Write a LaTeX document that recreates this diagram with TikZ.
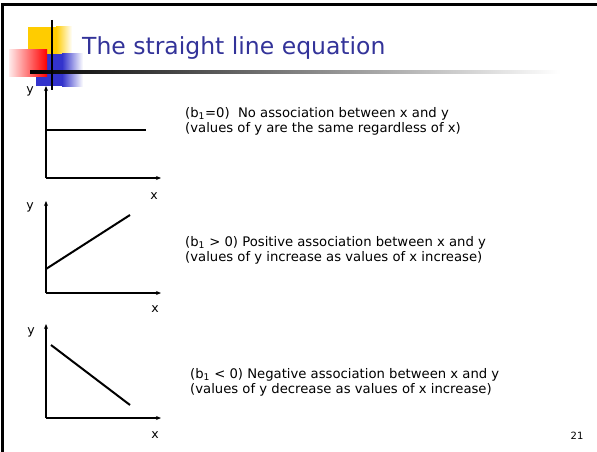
\documentclass[tikz,border=0pt]{standalone}
\usepackage{fontspec}
\setmainfont{DejaVu Sans}
\usetikzlibrary{arrows.meta,positioning}
\definecolor{titleblue}{RGB}{51,51,153}
\definecolor{logoyellow}{RGB}{255,204,0}
\definecolor{logoblue}{RGB}{51,51,204}
\begin{document}
\begin{tikzpicture}[x=1pt, y=-1pt,
    axis/.style={line width=1.8pt, -{Stealth[length=5pt,width=4pt]}},
    graph/.style={line width=2pt},
    axlabel/.style={font=\fontsize{12.5}{14}\selectfont, inner sep=0pt},
    note/.style={font=\fontsize{13.2}{15}\selectfont, align=left, anchor=west, inner sep=0pt}]
    \useasboundingbox (0,0) rectangle (597,452);
    % Marco de la diapositiva
    \draw[line width=3pt] (2.5,452) -- (2.5,5) -- (597,5);

    % Logotipo
    \fill[logoyellow] (28,27) rectangle (56,54);
    \shade[left color=logoyellow, right color=white] (56,27) rectangle (72,54);
    \fill[logoblue] (36,54) rectangle (62,86);
    \shade[left color=logoblue, right color=white] (62,54) rectangle (83,86);
    \shade[left color=red!8, right color=red] (9,50) rectangle (47,77);
    \shade[left color=black, right color=white] (30,71) rectangle (560,74);
    \draw[line width=2.5pt] (52,20) -- (52,90);

    % Titulo
    \node[anchor=base west, inner sep=0pt, text=titleblue, font=\fontsize{23.5}{28}\selectfont]
        (title) at (82,55) {The straight line equation};

    % Grafico 1: pendiente nula
    \coordinate (O1) at (46,178);
    \coordinate (Y1) at (46,86);
    \coordinate (X1) at (161,178);
    \draw[axis] (O1) -- (Y1);
    \draw[axis] (O1) -- (X1);
    \coordinate (A1) at (46,130);
    \coordinate (B1) at (146,130);
    \draw[graph] (A1) -- (B1);
    \node[axlabel] (ylab1) at (30,91) {y};
    \node[axlabel] (xlab1) at (154,196) {x};

    % Grafico 2: pendiente positiva
    \coordinate (O2) at (46,293);
    \coordinate (Y2) at (46,201);
    \coordinate (X2) at (161,293);
    \draw[axis] (O2) -- (Y2);
    \draw[axis] (O2) -- (X2);
    \coordinate (A2) at (46,269);
    \coordinate (B2) at (130,215);
    \draw[graph] (A2) -- (B2);
    \node[axlabel] (ylab2) at (30,207) {y};
    \node[axlabel] (xlab2) at (155,309) {x};

    % Grafico 3: pendiente negativa
    \coordinate (O3) at (46,418);
    \coordinate (Y3) at (46,324);
    \coordinate (X3) at (161,418);
    \draw[axis] (O3) -- (Y3);
    \draw[axis] (O3) -- (X3);
    \coordinate (A3) at (51,345);
    \coordinate (B3) at (130,405);
    \draw[graph] (A3) -- (B3);
    \node[axlabel] (ylab3) at (31,332) {y};
    \node[axlabel] (xlab3) at (155,435) {x};

    % Textos explicativos
    \node[note] (note1) at (185,121) {(b\textsubscript{1}=0)\ \ No association between x and y\\(values of y are the same regardless of x)};
    \node[note] (note2) at (185,250) {(b\textsubscript{1} > 0) Positive association between x and y\\(values of y increase as values of x increase)};
    \node[note] (note3) at (190,382) {(b\textsubscript{1} < 0) Negative association between x and y\\(values of y decrease as values of x increase)};

    % Numero de pagina
    \node[font=\fontsize{10}{12}\selectfont, inner sep=0pt] (page) at (577,436) {21};
\end{tikzpicture}
\end{document}
